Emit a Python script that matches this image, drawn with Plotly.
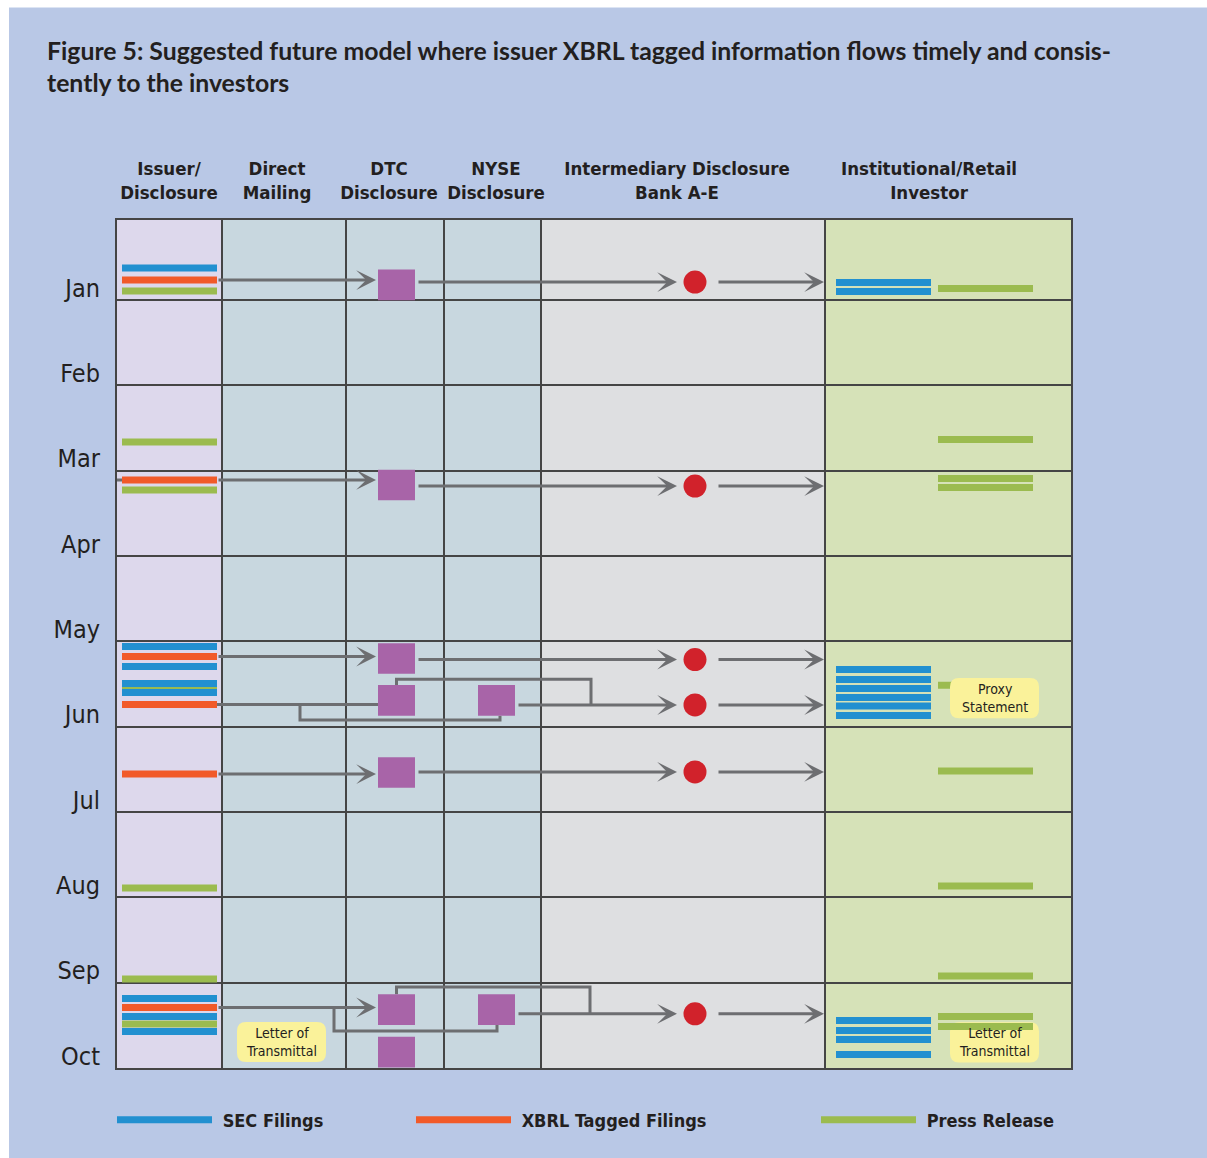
import plotly.graph_objects as go

# ---------------- data ----------------
months = ["Jan", "Feb", "Mar", "Apr", "May", "Jun", "Jul", "Aug", "Sep", "Oct"]
columns = ["Issuer/<br>Disclosure", "Direct<br>Mailing", "DTC<br>Disclosure",
           "NYSE<br>Disclosure", "Intermediary Disclosure<br>Bank A-E",
           "Institutional/Retail<br>Investor"]
series_names = ["SEC Filings", "XBRL Tagged Filings", "Press Release"]

# dates of the items, in months since 1 Jan
issuer_sec = [0.625, 5.061, 5.295, 5.494, 5.600, 9.186, 9.397, 9.572]
issuer_xbrl = [0.766, 3.109, 5.178, 5.740, 6.555, 9.291]
issuer_press = [0.895, 2.664, 3.227, 5.547, 7.891, 8.957, 9.485]
investor_sec = [0.795, 0.900, 5.330, 5.447, 5.553, 5.658, 5.758, 5.869,
                9.444, 9.561, 9.667, 9.842]
investor_press = [0.865, 2.635, 3.092, 3.197, 5.516, 6.520, 7.868, 8.922,
                  9.397, 9.514]
dtc_dates = [0.824, 3.168, 5.201, 5.693, 6.537, 9.315, 9.813]
nyse_dates = [5.693, 9.315]
bank_dates = [0.790, 3.180, 5.213, 5.746, 6.530, 9.365]
bank_source = ["DTC", "DTC", "DTC", "NYSE", "DTC", "NYSE"]
issuer_arrow_head = [True, True, True, False, True, True]
notes = [("Letter of<br>Transmittal", "Direct", 9.696),
         ("Letter of<br>Transmittal", "Investor", 9.700),
         ("Proxy<br>Statement", "Investor", 5.665)]

# ---------------- layout constants (lane units = px from grid left) ----------------
COL_EDGES = [0, 105, 229, 327, 424, 708, 954]
HEADER_X = [52, 160, 272, 379, 560, 812]
ISSUER_SPAN = (5, 100)
INV_SEC_SPAN = (719, 814)
INV_PRESS_SPAN = (821, 916)
DTC_X, NYSE_X, BANK_X = 279.5, 379.5, 578
BOX_W, BOX_H = 37, 0.36
PX_PER_MONTH = 85.33
NOTE_X = {"Direct": 164.5, "Investor": 877.5}
NOTE_W, NOTE_H = 89, 0.47
PLOT_W, PLOT_H, PLOT_L, PLOT_B = 954, 848, 117, 1068

BLUE, ORANGE, GREEN = "#2290D0", "#F15A29", "#9BBB4F"
PURPLE, RED, GRAY = "#A864A8", "#D1222B", "#6D6E71"
GRID = "#454545"
NARROW = "DejaVu Sans Condensed, Liberation Sans Narrow, Roboto, sans-serif"
TXT = "#231F20"


def segs(dates, span):
    xs, ys = [], []
    for d in dates:
        xs += [span[0], span[1], None]
        ys += [d, d, None]
    return xs, ys


fig = go.Figure()

# connectors (drawn first so the filing bars sit on top of them)
routes = [
    [(-2, issuer_xbrl[1]), (ISSUER_SPAN[1], issuer_xbrl[1])],
    [(100, issuer_xbrl[3]), (DTC_X - BOX_W / 2, issuer_xbrl[3])],
    [(183, issuer_xbrl[3]), (183, 5.922), (383, 5.922), (383, nyse_dates[0] + BOX_H / 2)],
    [(DTC_X, dtc_dates[3] - BOX_H / 2), (DTC_X, 5.444), (474, 5.444), (474, bank_dates[3])],
    [(217, issuer_xbrl[5]), (217, 9.567), (380, 9.567), (380, nyse_dates[1] + BOX_H / 2)],
    [(DTC_X, dtc_dates[5] - BOX_H / 2), (DTC_X, 9.051), (473, 9.051), (473, bank_dates[5])],
]
cx, cy = [], []
for r in routes:
    for p in r:
        cx.append(p[0]); cy.append(p[1])
    cx.append(None); cy.append(None)
fig.add_trace(go.Scatter(x=cx, y=cy, mode="lines", line=dict(color=GRAY, width=3),
                         showlegend=False, hoverinfo="skip"))

gx1, gy1 = segs(issuer_press, ISSUER_SPAN)
gx2, gy2 = segs(investor_press, INV_PRESS_SPAN)
fig.add_trace(go.Scatter(x=gx1 + gx2, y=gy1 + gy2, mode="lines", name="\u00a0" + series_names[2],
                         line=dict(color=GREEN, width=7), legend="legend3",
                         hoverinfo="skip"))
bx1, by1 = segs(issuer_sec, ISSUER_SPAN)
bx2, by2 = segs(investor_sec, INV_SEC_SPAN)
fig.add_trace(go.Scatter(x=bx1 + bx2, y=by1 + by2, mode="lines", name="\u00a0" + series_names[0],
                         line=dict(color=BLUE, width=7), legend="legend",
                         hoverinfo="skip"))
ox, oy = segs(issuer_xbrl, ISSUER_SPAN)
fig.add_trace(go.Scatter(x=ox, y=oy, mode="lines", name="\u00a0" + series_names[1],
                         line=dict(color=ORANGE, width=7), legend="legend2",
                         hoverinfo="skip"))

fig.add_trace(go.Scatter(x=[BANK_X] * len(bank_dates), y=bank_dates, mode="markers",
                         marker=dict(color=RED, size=23, line=dict(width=0)),
                         showlegend=False, hoverinfo="skip"))

shapes = []
# white page margin (top and left)
shapes.append(dict(type="rect", xref="paper", yref="paper", x0=-0.2, x1=1.2,
                   y0=(PLOT_B - 7.5) / PLOT_H, y1=1.4, fillcolor="white", line_width=0, layer="below"))
shapes.append(dict(type="rect", xref="paper", yref="paper", x0=-0.2, x1=(9 - PLOT_L) / PLOT_W,
                   y0=-0.2, y1=1.4, fillcolor="white", line_width=0, layer="below"))
# column backgrounds
bands = [(0, 1, "#DDD8EC"), (1, 4, "#C8D7DF"), (4, 5, "#DEDFE1"), (5, 6, "#D6E2B8")]
for a, b, c in bands:
    shapes.append(dict(type="rect", xref="x", yref="y", x0=COL_EDGES[a], x1=COL_EDGES[b],
                       y0=0, y1=10, fillcolor=c, line_width=0, layer="below"))
# DTC / NYSE boxes
for d in dtc_dates:
    shapes.append(dict(type="rect", xref="x", yref="y", x0=DTC_X - BOX_W / 2, x1=DTC_X + BOX_W / 2,
                       y0=d - BOX_H / 2, y1=min(d + BOX_H / 2, 10), fillcolor=PURPLE,
                       line_width=0, layer="above"))
for d in nyse_dates:
    shapes.append(dict(type="rect", xref="x", yref="y", x0=NYSE_X - BOX_W / 2, x1=NYSE_X + BOX_W / 2,
                       y0=d - BOX_H / 2, y1=d + BOX_H / 2, fillcolor=PURPLE,
                       line_width=0, layer="above"))


def rounded(xc, yc, w, h, r=9):
    x0, x1 = xc - w / 2, xc + w / 2
    y0, y1 = yc - h / 2, yc + h / 2
    ry = r / PX_PER_MONTH
    return (f"M{x0 + r},{y0} L{x1 - r},{y0} Q{x1},{y0} {x1},{y0 + ry} L{x1},{y1 - ry} "
            f"Q{x1},{y1} {x1 - r},{y1} L{x0 + r},{y1} Q{x0},{y1} {x0},{y1 - ry} "
            f"L{x0},{y0 + ry} Q{x0},{y0} {x0 + r},{y0} Z")


annotations = []
for i, (txt, col, d) in enumerate(notes):
    layer = "above" if txt.startswith("Proxy") else "between"
    shapes.append(dict(type="path", xref="x", yref="y", path=rounded(NOTE_X[col], d, NOTE_W, NOTE_H),
                       fillcolor="#FAF29A", line_width=0, layer=layer))
    annotations.append(dict(x=NOTE_X[col], y=d, xref="x", yref="y", text=txt, showarrow=False,
                            font=dict(family=NARROW, size=14, color=TXT)))

# arrows
def arrow(x0, y0, x1, y1):
    annotations.append(dict(x=x1, y=y1, ax=x0, ay=y0, xref="x", yref="y", axref="x", ayref="y",
                            text="", showarrow=True, arrowhead=3, arrowsize=1.1, arrowwidth=3,
                            arrowcolor=GRAY, standoff=0, startstandoff=0))

for i, yi in enumerate(issuer_xbrl):
    if issuer_arrow_head[i]:
        arrow(ISSUER_SPAN[1], yi, DTC_X - BOX_W / 2 - 2, yi)
    src = DTC_X if bank_source[i] == "DTC" else NYSE_X
    arrow(src + BOX_W / 2 + 2, bank_dates[i], BANK_X - 18, bank_dates[i])
    arrow(BANK_X + 22, bank_dates[i], COL_EDGES[5] - 1, bank_dates[i])

# title
title_font = dict(family="Lato, Open Sans, sans-serif", size=24.8, color=TXT, weight="bold")
annotations.append(dict(xref="paper", yref="paper", x=-72 / 954, y=(1068 - 50) / 848,
                        xanchor="left", yanchor="middle", showarrow=False,
                        text="Figure 5: Suggested future model where issuer XBRL tagged information flows timely and consis-",
                        font=title_font))
annotations.append(dict(xref="paper", yref="paper", x=-72 / 954, y=(1068 - 82) / 848,
                        xanchor="left", yanchor="middle", showarrow=False,
                        text="tently to the investors", font=title_font))

legend_font = dict(family=NARROW, size=18, color=TXT, weight="bold")
leg_common = dict(orientation="h", yanchor="middle", xanchor="left", bgcolor="rgba(0,0,0,0)",
                  font=legend_font, itemwidth=95, y=(1068 - 1120) / 848)

fig.update_layout(
    width=1207, height=1158, autosize=False,
    margin=dict(l=117, r=136, t=220, b=90),
    paper_bgcolor="#B9C8E6", plot_bgcolor="#B9C8E6",
    shapes=shapes, annotations=annotations,
    legend=dict(x=-5 / 954, **leg_common),
    legend2=dict(x=294 / 954, **leg_common),
    legend3=dict(x=699 / 954, **leg_common),
    xaxis=dict(range=[0, 954], side="top", tickmode="array", tickvals=HEADER_X, ticktext=columns,
               tickangle=0, showgrid=False, zeroline=False, ticks="", fixedrange=True,
               tickfont=dict(family=NARROW, size=18.5, color=TXT, weight="bold"),
               ticklabelstandoff=12,
               showline=True, mirror=True, linecolor=GRID, linewidth=2,
               minor=dict(tickmode="array", tickvals=COL_EDGES[1:-1], showgrid=True,
                          gridcolor=GRID, gridwidth=1.5, ticks="")),
    yaxis=dict(range=[10, 0.0625], tickmode="array", tickvals=[i + 0.86 for i in range(len(months))],
               ticktext=months, showgrid=False, zeroline=False, ticks="", fixedrange=True,
               tickfont=dict(family=NARROW, size=25, color=TXT),
               ticklabelstandoff=10,
               showline=True, mirror=True, linecolor=GRID, linewidth=2,
               minor=dict(tickmode="array", tickvals=list(range(1, 10)), showgrid=True,
                          gridcolor=GRID, gridwidth=2, ticks="")),
)

fig.write_html("out.html",
               config={"displayModeBar": False, "staticPlot": False},
               post_script="document.body.style.margin='0';"
                           "document.documentElement.style.overflow='hidden';"
                           "document.body.style.overflow='hidden';")
